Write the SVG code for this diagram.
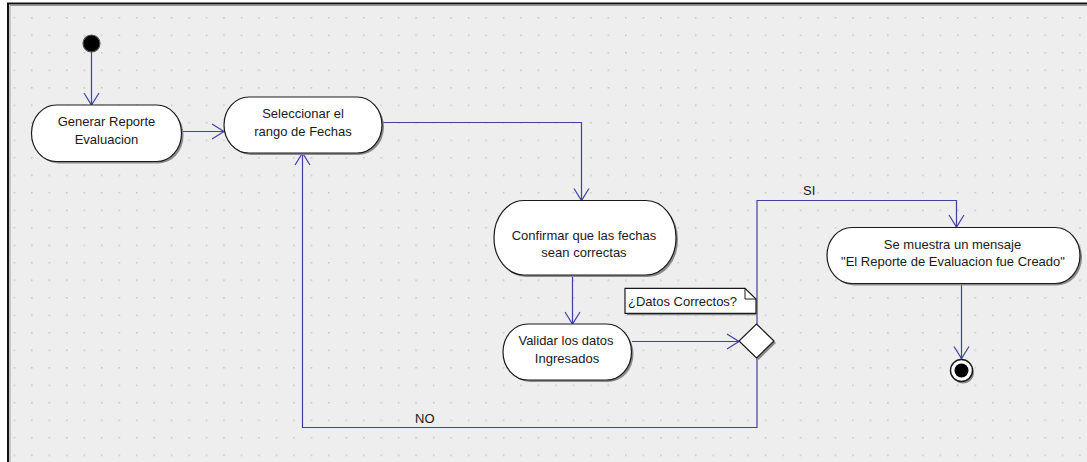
<svg xmlns="http://www.w3.org/2000/svg" width="1087" height="462" viewBox="0 0 1087 462">
  <style>
    .lbl { font-family: "Liberation Sans", Arial, sans-serif; font-size: 13px; fill: #1a1a1a; }
    .mid { text-anchor: middle; }
    .act { fill: #ffffff; stroke: #1a1a1a; stroke-width: 1.2; }
    .shadow { fill: #8a8a8a; }
    .flow { fill: none; stroke: #4040a8; stroke-width: 1.2; }
  </style>
  <defs>
    <pattern id="grid" patternUnits="userSpaceOnUse" x="13.6" y="17" width="17.47" height="17.5">
      <rect x="0" y="0" width="1.5" height="1.5" fill="#c6c6c6"/>
    </pattern>
    <marker id="open" markerUnits="userSpaceOnUse" markerWidth="16" markerHeight="18" viewBox="-14 -9 16 18" refX="0" refY="0" orient="auto">
      <path d="M-12,-7.5 L0,0 L-12,7.5" fill="none" stroke="#4040a8" stroke-width="1.2"/>
    </marker>
  </defs>

  <!-- canvas -->
  <rect x="0" y="0" width="1087" height="462" fill="#ffffff"/>
  <rect x="8" y="3" width="1079" height="459" fill="#eeeeee"/>
  <rect x="8" y="3" width="1079" height="459" fill="url(#grid)"/>
  <path d="M8,462 V3.5 H1087" fill="none" stroke="#111111" stroke-width="2"/>
  <path d="M10,462 V5.5 H1087" fill="none" stroke="#9a9a9a" stroke-width="1"/>

  <!-- connectors -->
  <g id="connectors">
    <path class="flow" d="M91.5,52 V105" marker-end="url(#open)"/>
    <path class="flow" d="M182,131.5 H224" marker-end="url(#open)"/>
    <path class="flow" d="M382,122.5 H581.5 V200.5" marker-end="url(#open)"/>
    <path class="flow" d="M572.5,275 V324" marker-end="url(#open)"/>
    <path class="flow" d="M632,341.5 H739" marker-end="url(#open)"/>
    <path class="flow" d="M757,324 V200.5 H956.5 V227" marker-end="url(#open)"/>
    <path class="flow" d="M757,358 V427.5 H302.5 V153" marker-end="url(#open)"/>
    <path class="flow" d="M961.5,283.5 V358.5" marker-end="url(#open)"/>
    <text class="lbl" x="803" y="195">SI</text>
    <text class="lbl" x="415" y="422.5">NO</text>
  </g>

  <!-- start -->
  <g id="start">
    <circle cx="91.5" cy="43.5" r="8.5" fill="#000000" stroke="#555555" stroke-width="1.2"/>
  </g>

  <g id="generar">
    <rect class="shadow" x="33.5" y="107" width="150" height="56.5" rx="25" ry="28"/>
    <rect class="act" x="31.5" y="105" width="150" height="56.5" rx="25" ry="28"/>
    <text class="lbl mid" x="106.5" y="126">Generar Reporte</text>
    <text class="lbl mid" x="106.5" y="143.5">Evaluacion</text>
  </g>

  <g id="seleccionar">
    <rect class="shadow" x="226" y="99" width="158" height="56" rx="25" ry="28"/>
    <rect class="act" x="224" y="97" width="158" height="56" rx="25" ry="28"/>
    <text class="lbl mid" x="303" y="118">Seleccionar el</text>
    <text class="lbl mid" x="303" y="135.5">rango de Fechas</text>
  </g>

  <g id="confirmar">
    <rect class="shadow" x="496" y="202.5" width="182" height="74.5" rx="30" ry="37"/>
    <rect class="act" x="494" y="200.5" width="182" height="74.5" rx="30" ry="37"/>
    <text class="lbl mid" x="584" y="239.5">Confirmar que las fechas</text>
    <text class="lbl mid" x="584" y="257">sean correctas</text>
  </g>

  <g id="validar">
    <rect class="shadow" x="505" y="326" width="128.5" height="56" rx="25" ry="28"/>
    <rect class="act" x="503" y="324" width="128.5" height="56" rx="25" ry="28"/>
    <text class="lbl mid" x="566" y="345">Validar los datos</text>
    <text class="lbl mid" x="567" y="362.5">Ingresados</text>
  </g>

  <g id="decision">
    <path class="shadow" d="M758.5,326 L776,343 L758.5,360 L741,343 Z"/>
    <path d="M756.5,324 L774,341 L756.5,358 L739,341 Z" fill="#ffffff" stroke="#1a1a1a" stroke-width="1.2"/>
  </g>

  <g id="nota">
    <path d="M627,290.3 H747 L758,301 V315.3 H627 Z" fill="#8a8a8a"/>
    <path d="M625,288.3 H745 L756,299 V313.3 H625 Z" fill="#ffffff" stroke="#1a1a1a" stroke-width="1.2"/>
    <path d="M745,288.3 V299 H756" fill="none" stroke="#1a1a1a" stroke-width="1"/>
    <text class="lbl" x="628" y="306">¿Datos Correctos?</text>
  </g>

  <g id="mensaje">
    <rect class="shadow" x="829" y="229.5" width="253" height="56" rx="25" ry="28"/>
    <rect class="act" x="827" y="227.5" width="253" height="56" rx="25" ry="28"/>
    <text class="lbl mid" x="952.5" y="248.5">Se muestra un mensaje</text>
    <text class="lbl mid" x="953" y="266">"El Reporte de Evaluacion fue Creado"</text>
  </g>

  <g id="fin">
    <circle cx="963" cy="372.5" r="11" fill="#8a8a8a"/>
    <circle cx="961.5" cy="370.5" r="11" fill="#ffffff" stroke="#1a1a1a" stroke-width="1.4"/>
    <circle cx="961.5" cy="370.5" r="7" fill="#000000"/>
  </g>
</svg>
